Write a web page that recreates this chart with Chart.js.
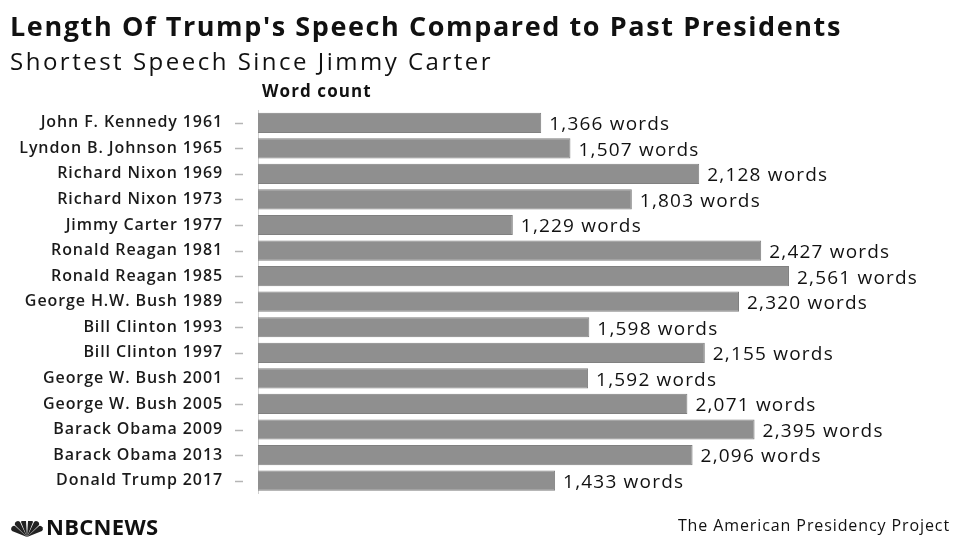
<!DOCTYPE html>
<html>
<head>
<meta charset="utf-8">
<script src="https://cdn.jsdelivr.net/npm/chart.js@4.4.1/dist/chart.umd.min.js"></script>
<style>
    html, body { margin: 0; padding: 0; background: #fff; }
    #wrap { position: relative; width: 959px; height: 538px; overflow: hidden; font-family: 'Open Sans', sans-serif; color: #111; }
    #chart { position: absolute; left: 0; top: 0; }
    .txt { position: absolute; white-space: nowrap; }
    #title { left: 10px; top: 7px; font-size: 27px; font-weight: bold; letter-spacing: 1.6px; }
    #subtitle { left: 10px; top: 44px; font-size: 24px; font-weight: 500; letter-spacing: 2.5px; }
    #axisTitle { left: 262px; top: 79px; font-size: 17px; font-weight: bold; letter-spacing: 1.1px; }
    #logo { left: 10px; top: 511px; font-size: 22px; font-weight: bold; letter-spacing: 0.3px; }
    #logo svg { vertical-align: -2px; margin-right: 2px; }
    #source { right: 9px; top: 514px; font-size: 16px; font-weight: 500; letter-spacing: 0.9px; }
</style>
</head>
<body>
<div id="wrap">
    <canvas id="chart" width="959" height="538"></canvas>
    <div class="txt" id="title">Length Of Trump's Speech Compared to Past Presidents</div>
    <div class="txt" id="subtitle">Shortest Speech Since Jimmy Carter</div>
    <div class="txt" id="axisTitle">Word count</div>
    <div class="txt" id="logo"><svg width="34" height="16" viewBox="0 0 34 16">
        <g fill="#222">
            <path d="M17 16 L2 10 A3 3 0 0 1 5 5 Z"/>
            <path d="M17 16 L5 4 A3 3 0 0 1 10 1 Z"/>
            <path d="M17 16 L11 1 A3 3 0 0 1 16 0 Z"/>
            <path d="M17 16 L18 0 A3 3 0 0 1 23 1 Z"/>
            <path d="M17 16 L24 1 A3 3 0 0 1 29 4 Z"/>
            <path d="M17 16 L29 5 A3 3 0 0 1 32 10 Z"/>
        </g></svg>NBCNEWS</div>
    <div class="txt" id="source">The American Presidency Project</div>
</div>
<script>
var presidents = [
    'John F. Kennedy 1961', 'Lyndon B. Johnson 1965', 'Richard Nixon 1969', 'Richard Nixon 1973',
    'Jimmy Carter 1977', 'Ronald Reagan 1981', 'Ronald Reagan 1985', 'George H.W. Bush 1989',
    'Bill Clinton 1993', 'Bill Clinton 1997', 'George W. Bush 2001', 'George W. Bush 2005',
    'Barack Obama 2009', 'Barack Obama 2013', 'Donald Trump 2017'
];
var wordCounts = [1366, 1507, 2128, 1803, 1229, 2427, 2561, 2320, 1598, 2155, 1592, 2071, 2395, 2096, 1433];

// wider lettering for the category labels, closer to the original typeface
var labelSpacing = {
    id: 'labelSpacing',
    beforeDraw(chart) { chart.ctx.letterSpacing = '0.9px'; },
    afterDraw(chart) { chart.ctx.letterSpacing = '0px'; }
};

// little grey dash left of every category label's axis
var tickDashes = {
    id: 'tickDashes',
    afterDraw(chart) {
        var ctx = chart.ctx;
        var y = chart.scales.y;
        var left = chart.chartArea.left;
        ctx.save();
        ctx.strokeStyle = '#b5b5b5';
        ctx.lineWidth = 1.5;
        y.ticks.forEach((t, i) => {
            var py = Math.round(y.getPixelForTick(i)) + 0.5;
            ctx.beginPath();
            ctx.moveTo(left - 23, py);
            ctx.lineTo(left - 15, py);
            ctx.stroke();
        });
        ctx.restore();
    }
};

// "1,366 words" labels at the end of the bars
var valueLabels = {
    id: 'valueLabels',
    afterDatasetsDraw(chart) {
        var ctx = chart.ctx;
        var meta = chart.getDatasetMeta(0);
        ctx.save();
        ctx.font = '500 19px "Open Sans"';
        ctx.letterSpacing = '1.2px';
        ctx.fillStyle = '#111';
        ctx.textBaseline = 'middle';
        meta.data.forEach((bar, i) => {
            var v = chart.data.datasets[0].data[i];
            ctx.fillText(v.toLocaleString('en-US') + ' words', bar.x + 8, bar.y + 2);
        });
        ctx.restore();
    }
};

var ctx = document.getElementById('chart').getContext('2d');
var myChart = new Chart(ctx, {
    type: 'bar',
    data: {
        labels: presidents,
        datasets: [{
            data: wordCounts,
            backgroundColor: '#8f8f8f',
            borderColor: '#808080',
            borderWidth: 1,
            categoryPercentage: 0.79,
            barPercentage: 1
        }]
    },
    options: {
        indexAxis: 'y',
        responsive: false,
        animation: false,
        layout: {
            padding: { left: 10, right: 79, top: 110, bottom: 31 }
        },
        plugins: {
            legend: { display: false },
            tooltip: { enabled: false }
        },
        scales: {
            x: {
                display: false,
                min: 0,
                max: 3000
            },
            y: {
                afterFit: function(scale) { scale.width = 248; },
                grid: { display: false, drawTicks: false },
                border: { display: true, color: '#d0d0d0', width: 1 },
                ticks: {
                    padding: 35,
                    color: '#1a1a1a',
                    font: { family: 'Open Sans', size: 16, weight: '600' }
                }
            }
        }
    },
    plugins: [labelSpacing, tickDashes, valueLabels]
});
</script>
</body>
</html>
